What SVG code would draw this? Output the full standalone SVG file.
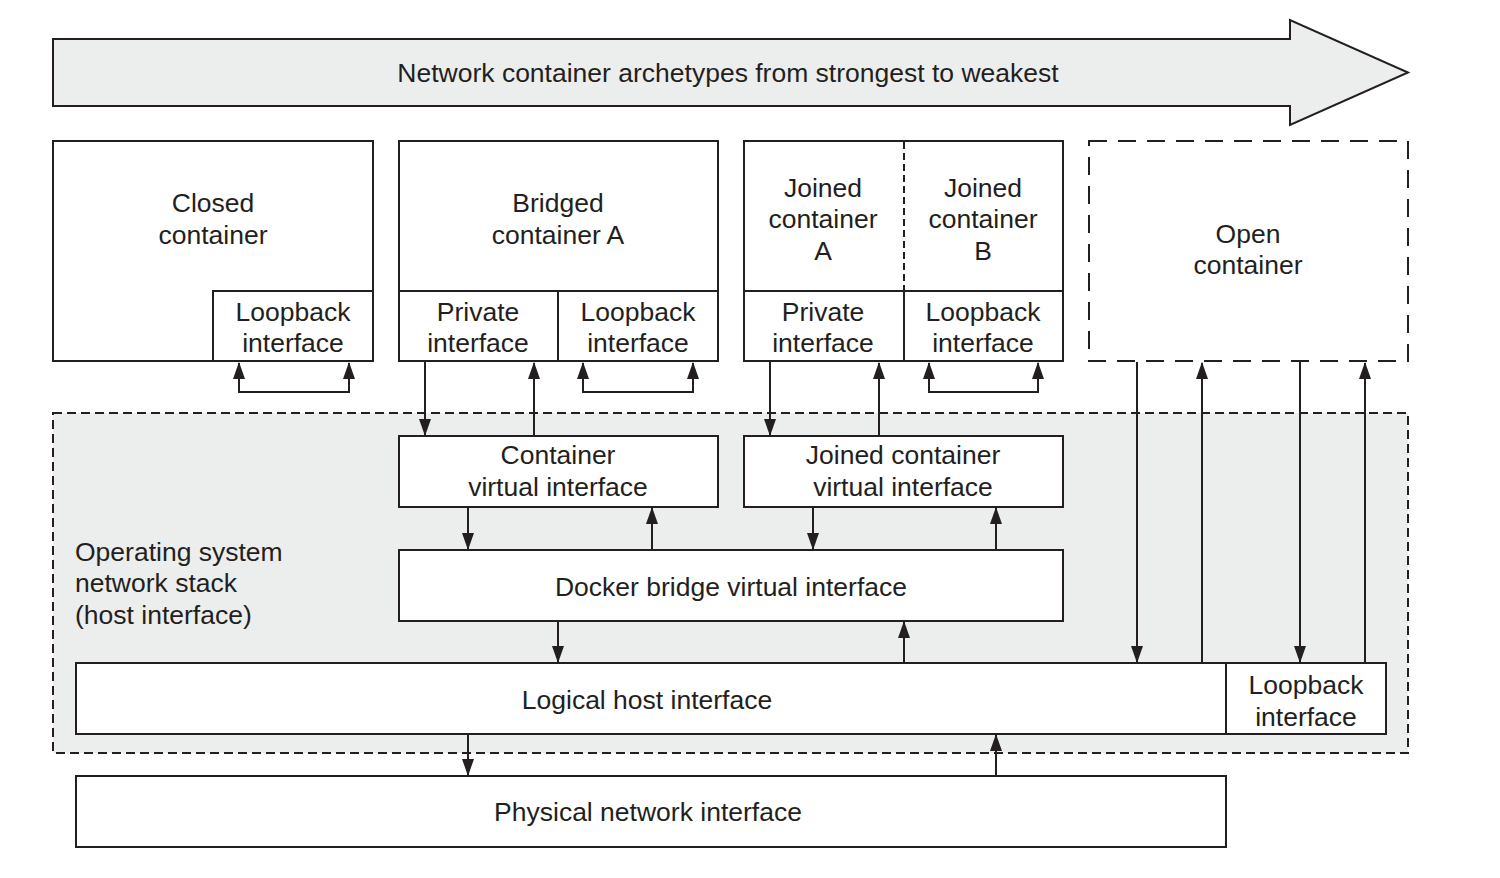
<svg xmlns="http://www.w3.org/2000/svg" width="1500" height="878" viewBox="0 0 1500 878">
<style>
  text { font-family: "Liberation Sans", Arial, sans-serif; font-size: 26.5px; fill: #231f20; text-anchor: middle; }
  .box { fill: #ffffff; stroke: #231f20; stroke-width: 2; }
  .ln { fill: none; stroke: #231f20; stroke-width: 2; }
  .dash { fill: none; stroke: #231f20; stroke-width: 2; stroke-dasharray: 18 11; }
  .sdash { fill: none; stroke: #231f20; stroke-width: 2; stroke-dasharray: 7 4; }
  .os { fill: #eceeed; stroke: #231f20; stroke-width: 2; stroke-dasharray: 9 5; }
  .arr { fill: none; stroke: #231f20; stroke-width: 2; marker-end: url(#ah); }
  .loop { fill: none; stroke: #231f20; stroke-width: 2; marker-start: url(#ah); marker-end: url(#ah); }
</style>
<defs>
  <marker id="ah" markerWidth="17" markerHeight="12" refX="16" refY="6" orient="auto-start-reverse" markerUnits="userSpaceOnUse">
    <path d="M0,0 L17,6 L0,12 z" fill="#231f20"/>
  </marker>
</defs>
<rect width="1500" height="878" fill="#ffffff"/>

<g id="title-arrow">
  <polygon points="53,39 1290,39 1290,20 1408,72.5 1290,125 1290,106 53,106" fill="#eceeed" stroke="#231f20" stroke-width="2"/>
  <text x="728" y="82">Network container archetypes from strongest to weakest</text>
</g>

<g id="os-stack">
  <rect class="os" x="53" y="413" width="1355" height="340"/>
  <text x="75" y="561" style="text-anchor:start">Operating system</text>
  <text x="75" y="592" style="text-anchor:start">network stack</text>
  <text x="75" y="624" style="text-anchor:start">(host interface)</text>
</g>

<g id="closed-container">
  <rect class="box" x="53" y="141" width="320" height="220"/>
  <text x="213" y="212">Closed</text>
  <text x="213" y="244">container</text>
  <rect class="box" x="213" y="291" width="160" height="70"/>
  <text x="293" y="321">Loopback</text>
  <text x="293" y="352">interface</text>
</g>

<g id="bridged-container">
  <rect class="box" x="399" y="141" width="319" height="220"/>
  <text x="558" y="212">Bridged</text>
  <text x="558" y="244">container A</text>
  <rect class="box" x="399" y="291" width="159" height="70"/>
  <text x="478" y="321">Private</text>
  <text x="478" y="352">interface</text>
  <rect class="box" x="558" y="291" width="160" height="70"/>
  <text x="638" y="321">Loopback</text>
  <text x="638" y="352">interface</text>
</g>

<g id="joined-container">
  <rect class="box" x="744" y="141" width="319" height="220"/>
  <line class="sdash" x1="904" y1="142" x2="904" y2="291"/>
  <text x="823" y="197">Joined</text>
  <text x="823" y="228">container</text>
  <text x="823" y="260">A</text>
  <text x="983" y="197">Joined</text>
  <text x="983" y="228">container</text>
  <text x="983" y="260">B</text>
  <rect class="box" x="744" y="291" width="160" height="70"/>
  <text x="823" y="321">Private</text>
  <text x="823" y="352">interface</text>
  <rect class="box" x="904" y="291" width="159" height="70"/>
  <text x="983" y="321">Loopback</text>
  <text x="983" y="352">interface</text>
</g>

<g id="open-container">
  <rect class="dash" x="1089" y="141" width="319" height="220"/>
  <text x="1248" y="243">Open</text>
  <text x="1248" y="274">container</text>
</g>

<g id="container-virtual-interface">
  <rect class="box" x="399" y="436" width="319" height="71"/>
  <text x="558" y="464">Container</text>
  <text x="558" y="496">virtual interface</text>
</g>

<g id="joined-virtual-interface">
  <rect class="box" x="744" y="436" width="319" height="71"/>
  <text x="903" y="464">Joined container</text>
  <text x="903" y="496">virtual interface</text>
</g>

<g id="docker-bridge">
  <rect class="box" x="399" y="550" width="664" height="71"/>
  <text x="731" y="596">Docker bridge virtual interface</text>
</g>

<g id="logical-host">
  <rect class="box" x="76" y="663" width="1310" height="71"/>
  <text x="647" y="709">Logical host interface</text>
  <rect class="box" x="1226" y="663" width="160" height="71"/>
  <text x="1306" y="694">Loopback</text>
  <text x="1306" y="726">interface</text>
</g>

<g id="physical">
  <rect class="box" x="76" y="776" width="1150" height="71"/>
  <text x="648" y="821">Physical network interface</text>
</g>

<g id="connectors">
  <path class="loop" d="M239,363 L239,392 L349,392 L349,363"/>
  <path class="loop" d="M583,363 L583,392 L693,392 L693,363"/>
  <path class="loop" d="M929,363 L929,392 L1038,392 L1038,363"/>

  <line class="arr" x1="425" y1="362" x2="425" y2="435"/>
  <line class="arr" x1="534" y1="436" x2="534" y2="363"/>
  <line class="arr" x1="770" y1="362" x2="770" y2="435"/>
  <line class="arr" x1="879" y1="436" x2="879" y2="363"/>

  <line class="arr" x1="1137" y1="362" x2="1137" y2="662"/>
  <line class="arr" x1="1202" y1="663" x2="1202" y2="363"/>
  <line class="arr" x1="1300" y1="362" x2="1300" y2="662"/>
  <line class="arr" x1="1365" y1="663" x2="1365" y2="363"/>

  <line class="arr" x1="468" y1="508" x2="468" y2="549"/>
  <line class="arr" x1="652" y1="550" x2="652" y2="508"/>
  <line class="arr" x1="813" y1="508" x2="813" y2="549"/>
  <line class="arr" x1="996" y1="550" x2="996" y2="508"/>

  <line class="arr" x1="558" y1="622" x2="558" y2="662"/>
  <line class="arr" x1="904" y1="663" x2="904" y2="622"/>

  <line class="arr" x1="468" y1="735" x2="468" y2="775"/>
  <line class="arr" x1="996" y1="776" x2="996" y2="735"/>
</g>
</svg>
